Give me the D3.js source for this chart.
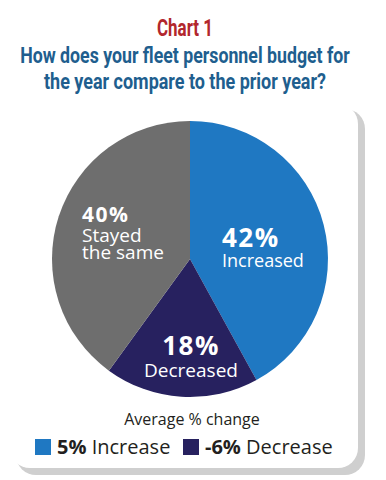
<!DOCTYPE html>
<html>
<head>
<meta charset="utf-8">
<script src="https://cdn.jsdelivr.net/npm/d3@7"></script>
<style>
  body { margin: 0; background: #fff; }
  svg { display: block; }
  .title { font-family: Roboto, "Liberation Sans", sans-serif; font-weight: bold; }
  .lbl { font-family: "Open Sans", "Noto Sans", sans-serif; fill: #fff; }
  .leg { font-family: "Open Sans", "Noto Sans", sans-serif; fill: #231f20; }
</style>
</head>
<body>
<svg id="chart" width="386" height="480"></svg>
<script>
// slices, clockwise from 12 o'clock
const categories = ["Increased", "Decreased", "Stayed the same"]
const shares = [42, 18, 40]
const sliceColors = ["#1f78c2", "#27215f", "#6e6e6e"]

// legend: average % change
const legendValues = ["5%", "-6%"]
const legendNames = ["Increase", "Decrease"]
const legendColors = ["#1f78c2", "#27215f"]

const svg = d3.select("#chart")

// titles: squeeze horizontally to get the condensed look
const titleRows = [
    {text: "Chart 1", y: 36, size: 24, color: "#b2272d", width: 56},
    {text: "How does your fleet personnel budget for", y: 63, size: 22, color: "#205e8e", width: 330},
    {text: "the year compare to the prior year?", y: 89, size: 22, color: "#205e8e", width: 282}
]
titleRows.forEach(r => {
    const t = svg.append("text").attr("class", "title")
        .attr("text-anchor", "middle")
        .attr("font-size", r.size).attr("fill", r.color)
        .text(r.text)
    const k = r.width / t.node().getComputedTextLength()
    t.attr("transform", `translate(185,${r.y}) scale(${k},1)`)
})

// card with shadow
svg.append("rect").attr("x", 16).attr("y", 109).attr("width", 349).attr("height", 366)
    .attr("rx", 20).attr("fill", "#cfcfcf")
svg.append("rect").attr("x", 10).attr("y", 104).attr("width", 348).attr("height", 364)
    .attr("rx", 20).attr("fill", "#fff")

// pie
const cx = 190, cy = 259, radius = 138
const pie = d3.pie().sort(null).value(d => d)
const arc = d3.arc().innerRadius(0).outerRadius(radius)
const g = svg.append("g").attr("transform", `translate(${cx},${cy})`)
g.selectAll("path").data(pie(shares)).join("path")
    .attr("d", arc)
    .attr("fill", (d, i) => sliceColors[i])

// slice labels
const labels = [
    {pct: shares[0], lines: ["Increased"], x: 32, y: -12, anchor: "start", size: 26, sub: 18, gap: 20},
    {pct: shares[1], lines: ["Decreased"], x: 1, y: 96, anchor: "middle", size: 26, sub: 19, gap: 22},
    {pct: shares[2], lines: ["Stayed", "the same"], x: -108, y: -37, anchor: "start", size: 21, sub: 19, gap: 20}
]
labels.forEach(l => {
    g.append("text").attr("class", "lbl")
        .attr("text-anchor", l.anchor)
        .attr("x", l.x).attr("y", l.y)
        .attr("font-weight", "bold").attr("font-size", l.size)
        .attr("letter-spacing", 1.5).text(l.pct + "%")
    l.lines.forEach((s, i) => {
        g.append("text").attr("class", "lbl")
            .attr("text-anchor", l.anchor)
            .attr("x", l.x).attr("y", l.y + l.gap + i * 17)
            .attr("font-size", l.sub).text(s)
    })
})

// legend
svg.append("text").attr("class", "leg")
    .attr("x", 192).attr("y", 425)
    .attr("text-anchor", "middle").attr("font-size", 16)
    .text("Average % change")
const legX = [35, 183]
legendValues.forEach((v, i) => {
    svg.append("rect").attr("x", legX[i]).attr("y", 439)
        .attr("width", 16).attr("height", 16).attr("fill", legendColors[i])
    const t = svg.append("text").attr("class", "leg")
        .attr("x", legX[i] + 22).attr("y", 454).attr("font-size", 20)
    t.append("tspan").attr("font-weight", "bold").text(v)
    t.append("tspan").text(" " + legendNames[i])
})
</script>
</body>
</html>
